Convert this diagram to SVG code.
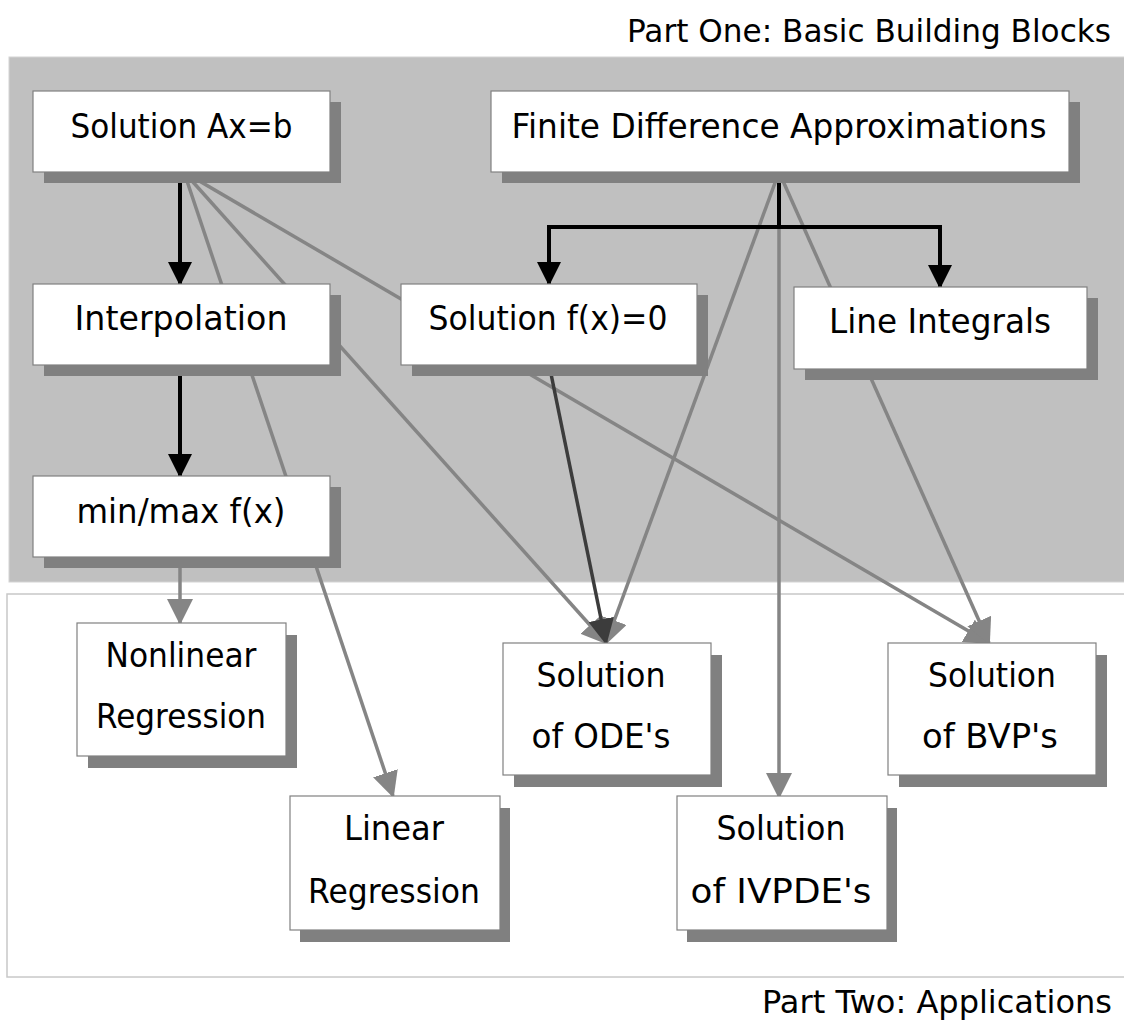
<svg xmlns="http://www.w3.org/2000/svg" width="1124" height="1022" viewBox="0 0 1124 1022">
<style>
  text { font-family: "DejaVu Sans", "Liberation Sans", sans-serif; font-size: 34px; fill: #000; text-anchor: middle; }
  .title { text-anchor: end; font-size: 32px; }
  .box { fill: #fff; stroke: #808080; stroke-width: 1.2; }
  .shadow { fill: #808080; }
  .blk { fill: none; stroke: #000; stroke-width: 4; stroke-linejoin: miter; }
  .gry { fill: none; stroke: #858585; stroke-width: 3.5; }
  .drk { fill: none; stroke: #3c3c3c; stroke-width: 3.5; }
</style>
<defs>
  <marker id="ah-b" markerUnits="userSpaceOnUse" markerWidth="24" markerHeight="24" refX="22" refY="12" orient="auto">
    <path d="M0,0 L24,12 L0,24 z" fill="#000"/>
  </marker>
  <marker id="ah-g" markerUnits="userSpaceOnUse" markerWidth="26" markerHeight="26" refX="24" refY="13" orient="auto">
    <path d="M0,0 L26,13 L0,26 z" fill="#858585"/>
  </marker>
  <marker id="ah-d" markerUnits="userSpaceOnUse" markerWidth="26" markerHeight="26" refX="24" refY="13" orient="auto">
    <path d="M0,0 L26,13 L0,26 z" fill="#3c3c3c"/>
  </marker>
</defs>

<g id="panels">
  <rect x="9" y="57" width="1125" height="525" fill="#c0c0c0" stroke="#d4d4d4" stroke-width="1"/>
  <rect x="7" y="594" width="1127" height="383" fill="#fff" stroke="#c8c8c8" stroke-width="1.5"/>
  <text class="title" x="1111" y="42" textLength="484" lengthAdjust="spacingAndGlyphs">Part One: Basic Building Blocks</text>
  <text class="title" x="1112" y="1013" textLength="350" lengthAdjust="spacingAndGlyphs">Part Two: Applications</text>
</g>

<g id="connectors">
  <!-- gray -->
  <path class="gry" d="M184,172 L393,796" marker-end="url(#ah-g)"/>
  <path class="gry" d="M184,172 L606,643" marker-end="url(#ah-g)"/>
  <path class="gry" d="M184,172 L989,643" marker-end="url(#ah-g)"/>
  <path class="gry" d="M779,172 L606,643" marker-end="url(#ah-g)"/>
  <path class="gry" d="M779,172 L779,797" marker-end="url(#ah-g)"/>
  <path class="gry" d="M779,172 L989,643" marker-end="url(#ah-g)"/>
  <path class="gry" d="M180,557 L180,623" marker-end="url(#ah-g)"/>
  <!-- dark -->
  <path class="drk" d="M549,364 L606,643" marker-end="url(#ah-d)"/>
  <!-- black -->
  <path class="blk" d="M180,172 V284" marker-end="url(#ah-b)"/>
  <path class="blk" d="M180,364 V476" marker-end="url(#ah-b)"/>
  <path class="blk" d="M779,172 V227 H549 V284" marker-end="url(#ah-b)"/>
  <path class="blk" d="M777,227 H940 V287" marker-end="url(#ah-b)"/>
</g>

<g id="n-axb">
  <rect class="shadow" x="44" y="102" width="297" height="81"/>
  <rect class="box" x="33" y="91" width="297" height="81"/>
  <text x="181.5" y="138" textLength="222" lengthAdjust="spacingAndGlyphs">Solution Ax=b</text>
</g>
<g id="n-fda">
  <rect class="shadow" x="502" y="102" width="578" height="81"/>
  <rect class="box" x="491" y="91" width="578" height="81"/>
  <text x="779" y="138" textLength="535" lengthAdjust="spacingAndGlyphs">Finite Difference Approximations</text>
</g>
<g id="n-interp">
  <rect class="shadow" x="44" y="295" width="297" height="81"/>
  <rect class="box" x="33" y="284" width="297" height="81"/>
  <text x="181" y="330" textLength="213" lengthAdjust="spacingAndGlyphs">Interpolation</text>
</g>
<g id="n-fx0">
  <rect class="shadow" x="412" y="295" width="296" height="81"/>
  <rect class="box" x="401" y="284" width="296" height="81"/>
  <text x="548" y="330" textLength="239" lengthAdjust="spacingAndGlyphs">Solution f(x)=0</text>
</g>
<g id="n-lineint">
  <rect class="shadow" x="805" y="298" width="293" height="82"/>
  <rect class="box" x="794" y="287" width="293" height="82"/>
  <text x="940" y="333" textLength="222" lengthAdjust="spacingAndGlyphs">Line Integrals</text>
</g>
<g id="n-minmax">
  <rect class="shadow" x="44" y="487" width="297" height="81"/>
  <rect class="box" x="33" y="476" width="297" height="81"/>
  <text x="181" y="523" textLength="209" lengthAdjust="spacingAndGlyphs">min/max f(x)</text>
</g>
<g id="n-nonlin">
  <rect class="shadow" x="88" y="635" width="209" height="133"/>
  <rect class="box" x="77" y="623" width="209" height="133"/>
  <text x="181" y="667" textLength="151" lengthAdjust="spacingAndGlyphs">Nonlinear</text>
  <text x="181" y="728" textLength="170" lengthAdjust="spacingAndGlyphs">Regression</text>
</g>
<g id="n-ode">
  <rect class="shadow" x="514" y="655" width="208" height="132"/>
  <rect class="box" x="503" y="643" width="208" height="132"/>
  <text x="601" y="687" textLength="129" lengthAdjust="spacingAndGlyphs">Solution</text>
  <text x="601" y="748" textLength="139" lengthAdjust="spacingAndGlyphs">of ODE's</text>
</g>
<g id="n-bvp">
  <rect class="shadow" x="899" y="655" width="208" height="132"/>
  <rect class="box" x="888" y="643" width="208" height="132"/>
  <text x="992" y="687" textLength="128" lengthAdjust="spacingAndGlyphs">Solution</text>
  <text x="990" y="748" textLength="136" lengthAdjust="spacingAndGlyphs">of BVP's</text>
</g>
<g id="n-linreg">
  <rect class="shadow" x="300" y="808" width="210" height="134"/>
  <rect class="box" x="290" y="796" width="210" height="134"/>
  <text x="394" y="840" textLength="100" lengthAdjust="spacingAndGlyphs">Linear</text>
  <text x="394" y="903" textLength="172" lengthAdjust="spacingAndGlyphs">Regression</text>
</g>
<g id="n-ivpde">
  <rect class="shadow" x="687" y="808" width="210" height="134"/>
  <rect class="box" x="677" y="796" width="210" height="134"/>
  <text x="781" y="840" textLength="129" lengthAdjust="spacingAndGlyphs">Solution</text>
  <text x="781" y="903" textLength="181" lengthAdjust="spacingAndGlyphs">of IVPDE's</text>
</g>
</svg>
